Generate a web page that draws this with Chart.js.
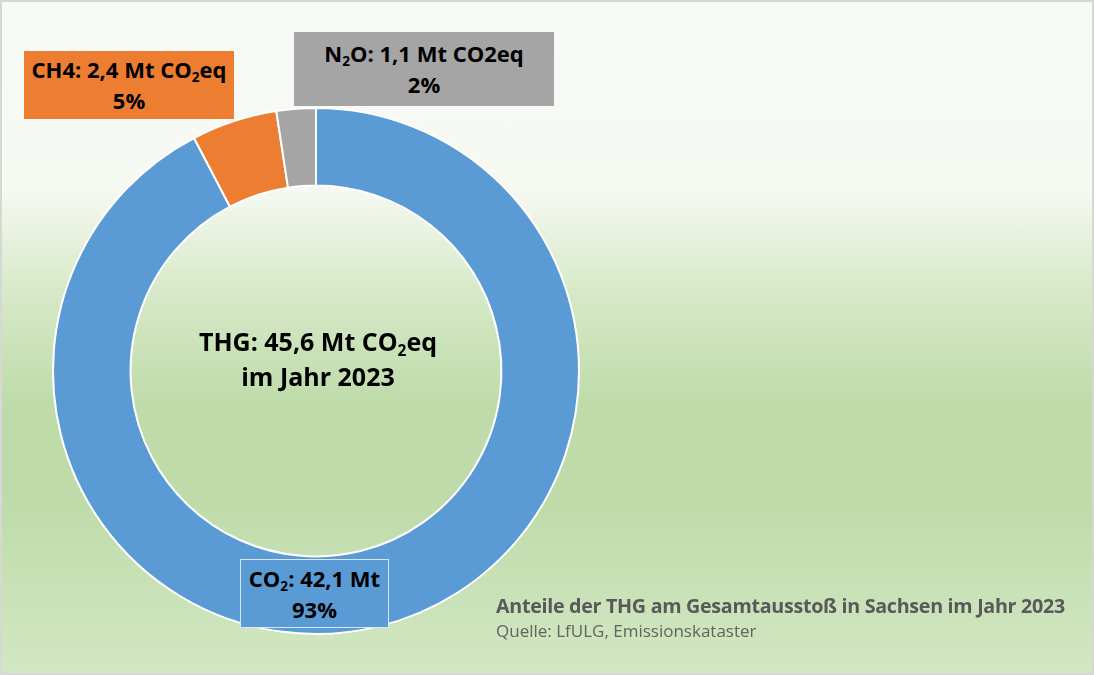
<!DOCTYPE html>
<html lang="de">
<head>
<meta charset="utf-8">
<title>Anteile der THG in Sachsen 2023</title>
<script src="https://cdn.jsdelivr.net/npm/chart.js@4/dist/chart.umd.min.js"></script>
<style>
  html, body { margin: 0; padding: 0; }
  #frame {
    position: relative;
    width: 1094px;
    height: 675px;
    box-sizing: border-box;
    border: 2px solid #d6d8d4;
    background: linear-gradient(to bottom, #f8faf6 0%, #f6f9f2 28%, #d9eacb 42%, #bedba9 60%, #bedba9 74%, #d2e7c3 100%);
    font-family: "Open Sans", "Noto Sans", sans-serif;
    overflow: hidden;
  }
  #chart { position: absolute; left: -2px; top: -2px; }
  .box {
    position: absolute;
    box-sizing: border-box;
    display: flex;
    flex-direction: column;
    justify-content: center;
    align-items: center;
    font-weight: bold;
    font-size: 22px;
    line-height: 31px;
    color: #000;
    text-align: center;
    white-space: nowrap;
  }
  .box sub, .center sub { font-size: 62%; vertical-align: -0.3em; line-height: 0; }
  #lbl0 { left: 238px; top: 557px; width: 149px; height: 69px; border: 1px solid rgba(255,255,255,0.75); }
  #lbl1 { left: 22px; top: 49px; width: 210px; height: 68px; }
  #lbl2 { left: 292px; top: 30px; width: 260px; height: 74px; }
  .center {
    position: absolute;
    left: 114px; top: 322px; width: 404px;
    text-align: center;
    font-weight: bold;
    font-size: 25px;
    line-height: 35px;
    color: #000;
  }
  #title {
    position: absolute; left: 494px; top: 590px;
    font-weight: bold; font-size: 19.7px; color: #595959; letter-spacing: -0.3px;
    white-space: nowrap;
  }
  #source {
    position: absolute; left: 494px; top: 617px;
    font-size: 17px; color: #636363; white-space: nowrap;
  }
</style>
</head>
<body>
<div id="frame">
  <canvas id="chart" width="1094" height="675"></canvas>
  <div class="center" id="centerText"></div>
  <div class="box" id="lbl0"></div>
  <div class="box" id="lbl1"></div>
  <div class="box" id="lbl2"></div>
  <div id="title"></div>
  <div id="source"></div>
</div>
<script>
// Data
const gases = ["CO<sub>2</sub>", "CH4", "N<sub>2</sub>O"];
const emissions = [42.1, 2.4, 1.1];          // Mt CO2eq
const unitTexts = ["Mt", "Mt CO<sub>2</sub>eq", "Mt CO2eq"];
const shares = [93, 5, 2];                    // percent as printed
const sliceColors = ["#5b9bd5", "#ed7d31", "#a5a5a5"];
const totalText = "THG: 45,6 Mt CO<sub>2</sub>eq<br>im Jahr 2023";
const titleText = "Anteile der THG am Gesamtausstoß in Sachsen im Jahr 2023";
const sourceText = "Quelle: LfULG, Emissionskataster";

function fmt(v) {
    return v.toFixed(1).replace(".", ",");
}

// Fill label boxes
gases.forEach((g, i) => {
    const el = document.getElementById("lbl" + i);
    el.innerHTML = `<div>${g}: ${fmt(emissions[i])} ${unitTexts[i]}</div><div>${shares[i]}%</div>`;
    el.style.background = sliceColors[i];
});
document.getElementById("centerText").innerHTML = totalText;
document.getElementById("title").textContent = titleText;
document.getElementById("source").textContent = sourceText;

// Render the doughnut
const ctx = document.getElementById("chart").getContext("2d");
new Chart(ctx, {
    type: "doughnut",
    data: {
        labels: gases.map(g => g.replace(/<\/?sub>/g, "")),
        datasets: [{
            data: emissions,
            backgroundColor: sliceColors,
            borderColor: "#ffffff",
            borderWidth: 2,
        }],
    },
    options: {
        responsive: false,
        animation: false,
        cutout: "70.5%",
        layout: {
            padding: { left: 52, right: 514, top: 107, bottom: 40 },
        },
        plugins: {
            legend: { display: false },
            tooltip: { enabled: false },
        },
    },
});
</script>
</body>
</html>
